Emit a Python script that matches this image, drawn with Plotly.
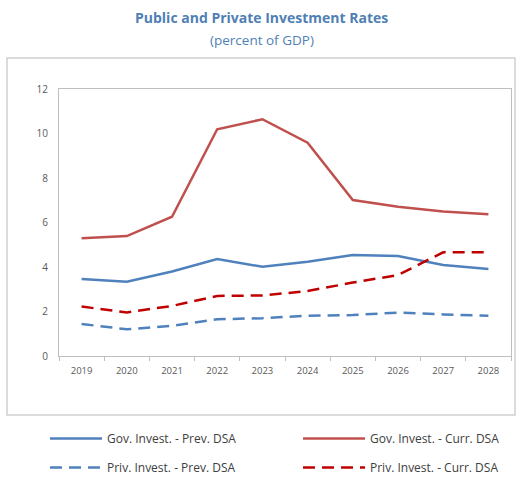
import plotly.graph_objects as go

years = ["2019", "2020", "2021", "2022", "2023", "2024", "2025", "2026", "2027", "2028"]
gov_prev = [3.46, 3.34, 3.8, 4.36, 4.01, 4.24, 4.54, 4.49, 4.09, 3.91]
gov_curr = [5.29, 5.39, 6.26, 10.19, 10.64, 9.59, 7.01, 6.71, 6.49, 6.37]
priv_prev = [1.44, 1.2, 1.36, 1.65, 1.7, 1.81, 1.84, 1.95, 1.87, 1.81]
priv_curr = [2.22, 1.96, 2.25, 2.7, 2.72, 2.92, 3.3, 3.64, 4.66, 4.66]
y_ticks = [0, 2, 4, 6, 8, 10, 12]

BLUE = "#4F81BD"
RED = "#C0504D"
RED_D = "#C00000"
FONT = "Open Sans"
DASH = "12px,7px"

fig = go.Figure()
fig.add_trace(go.Scatter(x=years, y=gov_prev, mode="lines", name="Gov. Invest. - Prev. DSA",
                         legend="legend", legendgroup="a",
                         line=dict(color=BLUE, width=2.5)))
fig.add_trace(go.Scatter(x=years, y=gov_curr, mode="lines", name="Gov. Invest. - Curr. DSA",
                         legend="legend2", legendgroup="b",
                         line=dict(color=RED, width=2.5)))
fig.add_trace(go.Scatter(x=years, y=priv_prev, mode="lines", name="Priv. Invest. - Prev. DSA",
                         legend="legend", legendgroup="c",
                         line=dict(color=BLUE, width=2.5, dash=DASH)))
fig.add_trace(go.Scatter(x=years, y=priv_curr, mode="lines", name="Priv. Invest. - Curr. DSA",
                         legend="legend2", legendgroup="d",
                         line=dict(color=RED_D, width=2.5, dash=DASH)))

W, H = 521, 478
L, R, T, B = 59, 10, 89, 122
pw, ph = W - L - R, H - T - B

def px_x(x):
    return (x - L) / pw

def px_y(y):
    return (H - B - y) / ph

legend_common = dict(orientation="v", xref="container", yref="container",
                     xanchor="left", yanchor="top", tracegroupgap=10,
                     font=dict(size=12, color="#404040", family=FONT),
                     bgcolor="rgba(0,0,0,0)")

fig.update_layout(
    width=W, height=H,
    margin=dict(l=L, r=R, t=T, b=B, autoexpand=False),
    paper_bgcolor="white", plot_bgcolor="white",
    font=dict(family=FONT, color="#595959", size=10),
    showlegend=True,
    legend=dict(x=45 / W, y=1 - 424 / H, itemwidth=52, **legend_common),
    legend2=dict(x=298 / W, y=1 - 424 / H, itemwidth=62, **legend_common),
    xaxis=dict(type="category", range=[-0.5, 9.5], showgrid=False, showline=True,
               linecolor="#BFBFBF", linewidth=1,
               mirror=True, ticks="outside", ticklen=4, tickcolor="#BFBFBF",
               tickson="boundaries", ticklabelstandoff=6,
               tickfont=dict(size=9.5, color="#595959")),
    yaxis=dict(range=[0, 12], tickvals=y_ticks, showgrid=False, showline=True,
               linecolor="#BFBFBF", linewidth=1, mirror=True, ticks="outside", ticklen=8,
               tickcolor="rgba(0,0,0,0)",
               zeroline=False, tickfont=dict(size=10, color="#595959")),
    shapes=[dict(type="rect", xref="paper", yref="paper",
                 x0=px_x(7), x1=px_x(515), y0=px_y(415), y1=px_y(58),
                 line=dict(color="#D0D0D0", width=1.5), fillcolor="rgba(0,0,0,0)", layer="below")],
    annotations=[
        dict(text="<b>Public and Private Investment Rates</b>", xref="paper", yref="paper",
             x=px_x(261), y=px_y(17), xanchor="center", yanchor="middle", showarrow=False,
             font=dict(size=14, color="#4F7FB5", family=FONT)),
        dict(text="(percent of GDP)", xref="paper", yref="paper",
             x=px_x(262), y=px_y(40), xanchor="center", yanchor="middle", showarrow=False,
             font=dict(size=13.5, color="#4F7FB5", family=FONT)),
    ],
)

fig.write_html("out.html", config={"displayModeBar": False},
               post_script="document.body.style.margin='0';")
